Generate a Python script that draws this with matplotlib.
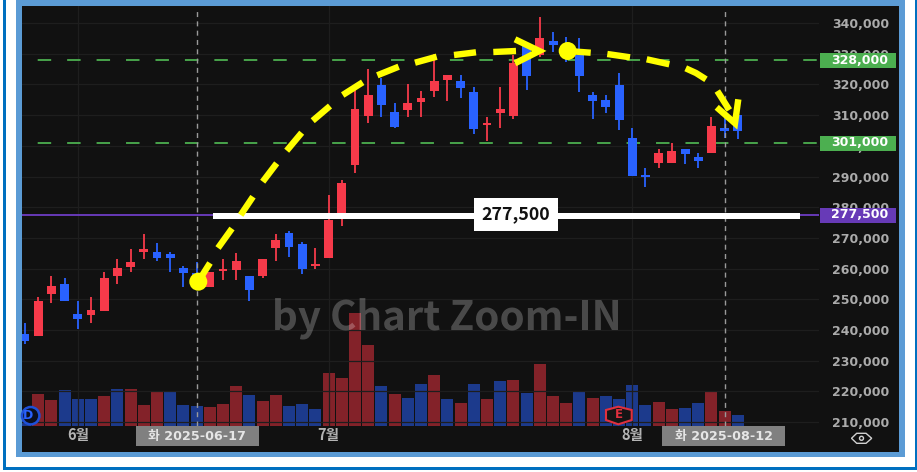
import matplotlib
matplotlib.use("Agg")
import matplotlib.pyplot as plt
from matplotlib.patches import Rectangle, Polygon, Circle

plt.rcParams['lines.scale_dashes'] = False

# Daily prices in thousands of won
highs = [242.2,250.9,257.7,256.9,249.5,250.8,258.8,263.3,266.3,271.3,268.3,265.4,260.8,262.0,258.9,263.0,265.0,257.7,263.3,271.3,272.2,268.8,266.8,284.0,288.9,318.2,324.9,322.0,313.8,320.0,318.0,329.8,323.1,323.1,319.3,309.4,319.0,329.6,333.4,342.1,337.0,335.3,335.1,317.4,316.5,323.6,305.7,292.8,299.0,300.8,299.0,297.8,309.4,310.0,310.0]
tops = [238.7,249.5,254.5,255.0,245.3,246.5,256.9,260.2,262.0,266.3,265.4,264.9,260.2,258.5,258.9,259.9,262.4,257.5,263.0,269.3,271.7,268.0,261.4,276.0,288.0,312.0,316.5,319.9,311.1,313.8,315.6,321.1,323.1,321.1,317.4,307.4,312.0,327.1,332.8,335.1,334.1,332.3,329.6,316.5,314.9,319.9,302.5,290.4,297.8,298.3,299.0,296.5,306.5,305.8,310.0]
bottoms = [236.5,238.1,251.7,249.6,243.6,244.9,246.2,257.5,260.5,265.5,263.6,263.6,258.6,256.3,254.1,259.2,259.7,253.1,257.5,266.6,267.2,259.8,260.7,263.5,278.2,293.7,309.8,313.4,306.2,311.8,314.3,317.9,321.4,318.9,305.4,306.8,310.8,309.8,322.8,329.7,332.8,331.2,322.8,314.7,312.7,308.4,290.2,289.7,294.3,294.3,297.3,295.1,297.7,304.8,304.8]
lows = [235.4,238.1,248.9,249.6,240.3,242.3,246.2,255.0,258.8,263.0,262.5,258.9,253.9,253.5,253.9,256.3,256.3,249.6,257.0,262.5,263.9,258.4,259.8,263.5,273.9,291.0,307.5,309.5,305.7,309.5,309.5,316.0,314.5,315.6,304.0,301.6,305.9,308.7,318.1,329.0,330.5,327.4,317.6,308.7,310.6,305.1,290.2,286.6,292.9,294.3,294.0,292.9,297.7,302.5,302.1]
candle_up = [0,1,1,0,0,1,1,1,1,1,0,0,0,0,1,1,1,0,1,1,0,0,1,1,1,1,1,0,0,1,1,1,1,0,0,1,1,1,0,1,0,0,0,0,0,0,0,0,1,1,0,0,1,0,0]
# Relative volume and its colour
volumes = [12,31.7,26.3,35.7,27,27,30.3,36.7,36.7,21,34.7,33.7,21,20.3,18.7,22,39.7,30.7,24.7,31.3,19.7,22,17,52.7,47.7,112.7,80.7,40,31.7,28,42,51,26.7,23,42,27,45,46,33.3,62,30,23,34,28,30,27.3,41,21.3,24,17,18,23,34,15,11]
volume_up = [0,1,1,0,0,0,1,0,1,1,1,0,0,0,1,1,1,0,1,1,0,0,0,1,1,1,1,0,1,0,0,1,0,1,0,1,0,1,0,1,1,1,0,1,0,0,0,0,1,1,0,0,1,1,0]

price_ticks = [210,220,230,240,250,260,270,280,290,300,310,320,330,340]
month_idx = [4,23,46]
month_labels = ['6월','7월','8월']
levels_green = [328.0,301.0]
level_purple = 277.5
crosshair_idx = [13,53]
crosshair_labels = ['화 2025-06-17','화 2025-08-12']

RED, BLUE = '#F63A4A', '#2962FF'
VRED, VBLUE = '#832229', '#1C3A8C'
BG = '#111111'
W, H = 917, 472
L, R, T, B = 22, 819, 5.5, 426

fig = plt.figure(figsize=(W/100, H/100), dpi=100, facecolor='white')

# background frame
bg = fig.add_axes([0,0,1,1], zorder=0)
bg.set_xlim(0,W); bg.set_ylim(H,0); bg.axis('off')
bg.add_patch(Rectangle((3,-2),2.7,469,color='#0070C0',lw=0))
bg.add_patch(Rectangle((3,467),914,3,color='#0070C0',lw=0))
bg.add_patch(Rectangle((915,-2),2,472,color='#0070C0',lw=0))
bg.add_patch(Rectangle((16,0),889,457,color='#5B9BD5',lw=0))
bg.add_patch(Rectangle((22,T),877,452-T,color=BG,lw=0))

rect = [L/W, (H-B)/H, (R-L)/W, (B-T)/H]
xlim = (-0.227, 60.15)

vax = fig.add_axes(rect, zorder=1)
vax.patch.set_visible(False); vax.axis('off')
vax.set_xlim(*xlim); vax.set_ylim(0, B-T)
vax.bar(range(len(volumes)), volumes, width=0.9,
        color=[VRED if u else VBLUE for u in volume_up], lw=0)

ax = fig.add_axes(rect, zorder=2)
ax.patch.set_visible(False)
ax.set_xlim(*xlim); ax.set_ylim(208.75, 345.7)
for s in ax.spines.values():
    s.set_visible(False)
ax.yaxis.tick_right()
ax.set_yticks(price_ticks)
ax.set_yticklabels([f'{p},000' for p in price_ticks], fontsize=9.0, color='#ababab', fontweight='bold', family='DejaVu Sans')
ax.set_xticks(month_idx)
ax.set_xticklabels(month_labels, fontsize=10.5, color='#b4b4b4', fontweight='bold', family='Noto Sans CJK KR')
ax.tick_params(axis='y', length=0, pad=9.5)
ax.tick_params(axis='x', length=0, pad=1)
ax.grid(True, color='#1E1E1E', lw=0.9)
ax.set_axisbelow(True)

idx = list(range(len(highs)))
ccol = [RED if u else BLUE for u in candle_up]
ax.vlines(idx, lows, highs, colors=ccol, lw=1.3, zorder=3)
ax.bar(idx, [t-b for t,b in zip(tops,bottoms)], bottom=bottoms, width=0.68, color=ccol, lw=0, zorder=3)

for lv in levels_green:
    ax.axhline(lv, color='#4CAF50', lw=1.3, ls=(9.9,(9.7,11.5)), zorder=2.5)
ax.axhline(level_purple, color='#673AB7', lw=1.4, zorder=2.5)
for c in crosshair_idx:
    ax.plot([c,c],[208.75,344.0], color='#9A9A9A', lw=1.0, ls=(0,(3.6,3.1)), zorder=4)

# annotation overlay in figure pixels
ov = fig.add_axes([0,0,1,1], zorder=3)
ov.patch.set_visible(False); ov.set_xlim(0,W); ov.set_ylim(H,0); ov.axis('off')

ov.text(447, 318, 'by Chart Zoom-IN', color='white', alpha=0.24, fontsize=29, family='Noto Sans CJK KR', fontweight='bold', ha='center', va='center')

# axis tags
tag_texts = ['328,000','301,000','277,500']
tag_cols = ['#4CAF50','#4CAF50','#673AB7']
tag_y = [53,136,208]
for t,c,y in zip(tag_texts,tag_cols,tag_y):
    ov.add_patch(Rectangle((820,y),75.7,14.7,color=c,lw=0,zorder=3))
    ov.text(859.5,y+7.0,t,color='white',fontsize=9.0,fontweight='bold',family='DejaVu Sans',ha='center',va='center',zorder=4)

# crosshair date labels
for x0,t in zip([135.7,662.3],crosshair_labels):
    ov.add_patch(Rectangle((x0,426),123,20,color='#808080',lw=0,zorder=3))
    ov.text(x0+61.5,436.5,t,color='#E6E6E6',fontsize=9.2,fontweight='bold',family=['DejaVu Sans','Noto Sans CJK KR'],ha='center',va='center',zorder=4)

# D marker
d_clip = Rectangle((22,400),40,30,transform=ov.transData)
ov.add_patch(Circle((30.7,415.7),8.7,fc='#0B1020',ec='#1E50D8',lw=1.8,zorder=3,clip_path=d_clip))
ov.text(28,415.7,'D',color='#2962FF',fontsize=9,fontweight='bold',ha='center',va='center',zorder=4)
# E marker
ov.add_patch(Polygon([(606,410),(618.3,406.7),(631.7,410),(631.7,420),(618.3,424.3),(606,420)],fc='#151515',ec='#E0303F',lw=1.5,zorder=3))
ov.text(618.5,415,'E',color='#E0303F',fontsize=8.5,fontweight='bold',ha='center',va='center',zorder=4)
# eye icon
ov.add_patch(Polygon([(851.5,438.3),(856.7,433.3),(866,433.3),(871.7,438.3),(866,443.3),(856.7,443.3)],fc='none',ec='#D0D0D0',lw=1.0))
ov.add_patch(Circle((861.5,438.3),2,fc='none',ec='#D0D0D0',lw=1.0))

# white price line and box
ov.add_patch(Rectangle((213,213),587,6,color='white',lw=0,zorder=5))
ov.add_patch(Rectangle((474,198),84,32.7,color='white',lw=0,zorder=5))
ov.text(516,214.5,'277,500',color='#111111',fontsize=12.8,fontweight='bold',family='Noto Sans CJK KR',ha='center',va='center',zorder=6)

# yellow hand-drawn path
dashes = [
 [(198,282),(210,263)],[(218,248),(232,228.5)],[(240.7,215),(253,196.7)],
 [(262.7,181.7),(276.7,163.3)],[(286.7,150.7),(301.7,132.7)],[(312.7,120.7),(330,106)],
 [(342.7,95),(362.7,82.3)],[(377.3,75.3),(398.7,66.7)],[(415,62.7),(436.7,56.7)],
 [(454,55),(476,52.3)],[(493.3,52),(516,51)],
 [(567.7,51),(590.7,52.7)],[(607.3,54),(630,57.3)],[(646.7,59.3),(669.3,64.3)],
 [(685.7,68.3),(696,73),(706,79.3)],[(717.3,91),(723,100),(729.3,110)],
]
for d in dashes:
    ov.plot(*zip(*d),color='#FFFF00',lw=4.6,solid_capstyle='butt',zorder=7)
for arrow in ([(515,39.3),(539.3,51),(515,63.3)],[(716.7,107.3),(735,123.3),(738.3,99.3)]):
    ov.plot(*zip(*arrow),color='#FFFF00',lw=4.6,solid_capstyle='butt',solid_joinstyle='miter',zorder=7)
for c in [(198.3,281.7),(567.7,51)]:
    ov.add_patch(Circle(c,9,color='#FFFF00',lw=0,zorder=8))

fig.savefig('out.png',dpi=100,facecolor='white')
